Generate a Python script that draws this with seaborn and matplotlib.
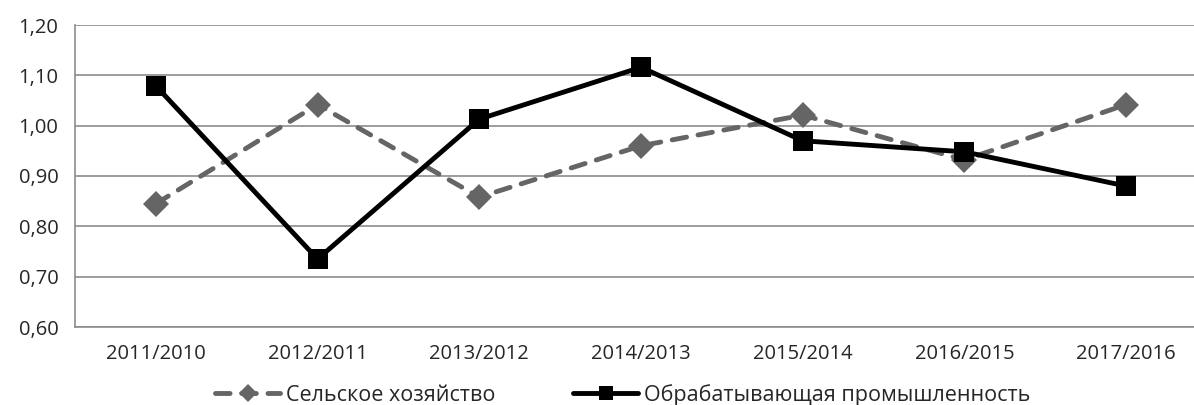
import numpy as np
import pandas as pd
import seaborn as sns
from matplotlib import pyplot as plt
from matplotlib.ticker import FixedLocator

sns.set_style("white")
plt.rcParams['font.family'] = ['Open Sans', 'DejaVu Sans']

periods = ["2011/2010", "2012/2011", "2013/2012", "2014/2013",
           "2015/2014", "2016/2015", "2017/2016"]
agri = [0.845, 1.042, 0.858, 0.960, 1.021, 0.932, 1.042]
manuf = [1.079, 0.735, 1.013, 1.116, 0.970, 0.948, 0.880]
agri_label = "Сельское хозяйство"
manuf_label = "Обрабатывающая промышленность"
yticks = [0.60, 0.70, 0.80, 0.90, 1.00, 1.10, 1.20]
yticklabels = ["0,60", "0,70", "0,80", "0,90", "1,00", "1,10", "1,20"]

df_a = pd.DataFrame({"period": periods, "value": agri})
df_m = pd.DataFrame({"period": periods, "value": manuf})

fig = plt.figure(figsize=(11.94, 4.05), dpi=100)
# axes runs a little past the right edge, like in the original
ax = fig.add_axes([75/1194, 78/405, 1132/1194, 302/405])

grey = "#656565"
sns.lineplot(data=df_a, x="period", y="value", ax=ax, color=grey, lw=3.5,
             linestyle=(0, (3.0, 2.4)), dash_capstyle="round",
             marker="D", markersize=13.5, markeredgewidth=0, label=agri_label)
sns.lineplot(data=df_m, x="period", y="value", ax=ax, color="black", lw=3.5,
             marker="s", markersize=14.5, markeredgewidth=0, label=manuf_label)

fs = 14.5
ax.set_xlim(-0.5, len(periods) - 0.5)
ax.set_ylim(0.6, 1.2)
ax.set_yticks(yticks)
ax.set_yticklabels(yticklabels)
ax.xaxis.set_minor_locator(FixedLocator(np.arange(-0.5, len(periods), 1)))
ax.tick_params(axis="x", which="major", length=0, pad=12, labelsize=fs)
ax.tick_params(axis="x", which="minor", length=5, width=1.2, color="#8c8c8c")
ax.tick_params(axis="y", length=5, width=1.2, color="#8c8c8c", pad=7, labelsize=fs)
ax.grid(axis="y", color="#8c8c8c", lw=1.2)
ax.set_axisbelow(True)
for side in ["top", "right"]:
    ax.spines[side].set_visible(False)
for side in ["left", "bottom"]:
    ax.spines[side].set_color("#8c8c8c")
    ax.spines[side].set_linewidth(1.2)
ax.set_xlabel("")
ax.set_ylabel("")

ax.legend_.remove()
handles, labels = ax.get_legend_handles_labels()
fig.legend(handles, labels, loc="lower center", bbox_to_anchor=(623/1194, -0.05),
           ncol=2, frameon=False, fontsize=15.5, handlelength=3.0, markerscale=0.7,
           columnspacing=3.6, handletextpad=0.3)

fig.savefig("out.png", dpi=100)
